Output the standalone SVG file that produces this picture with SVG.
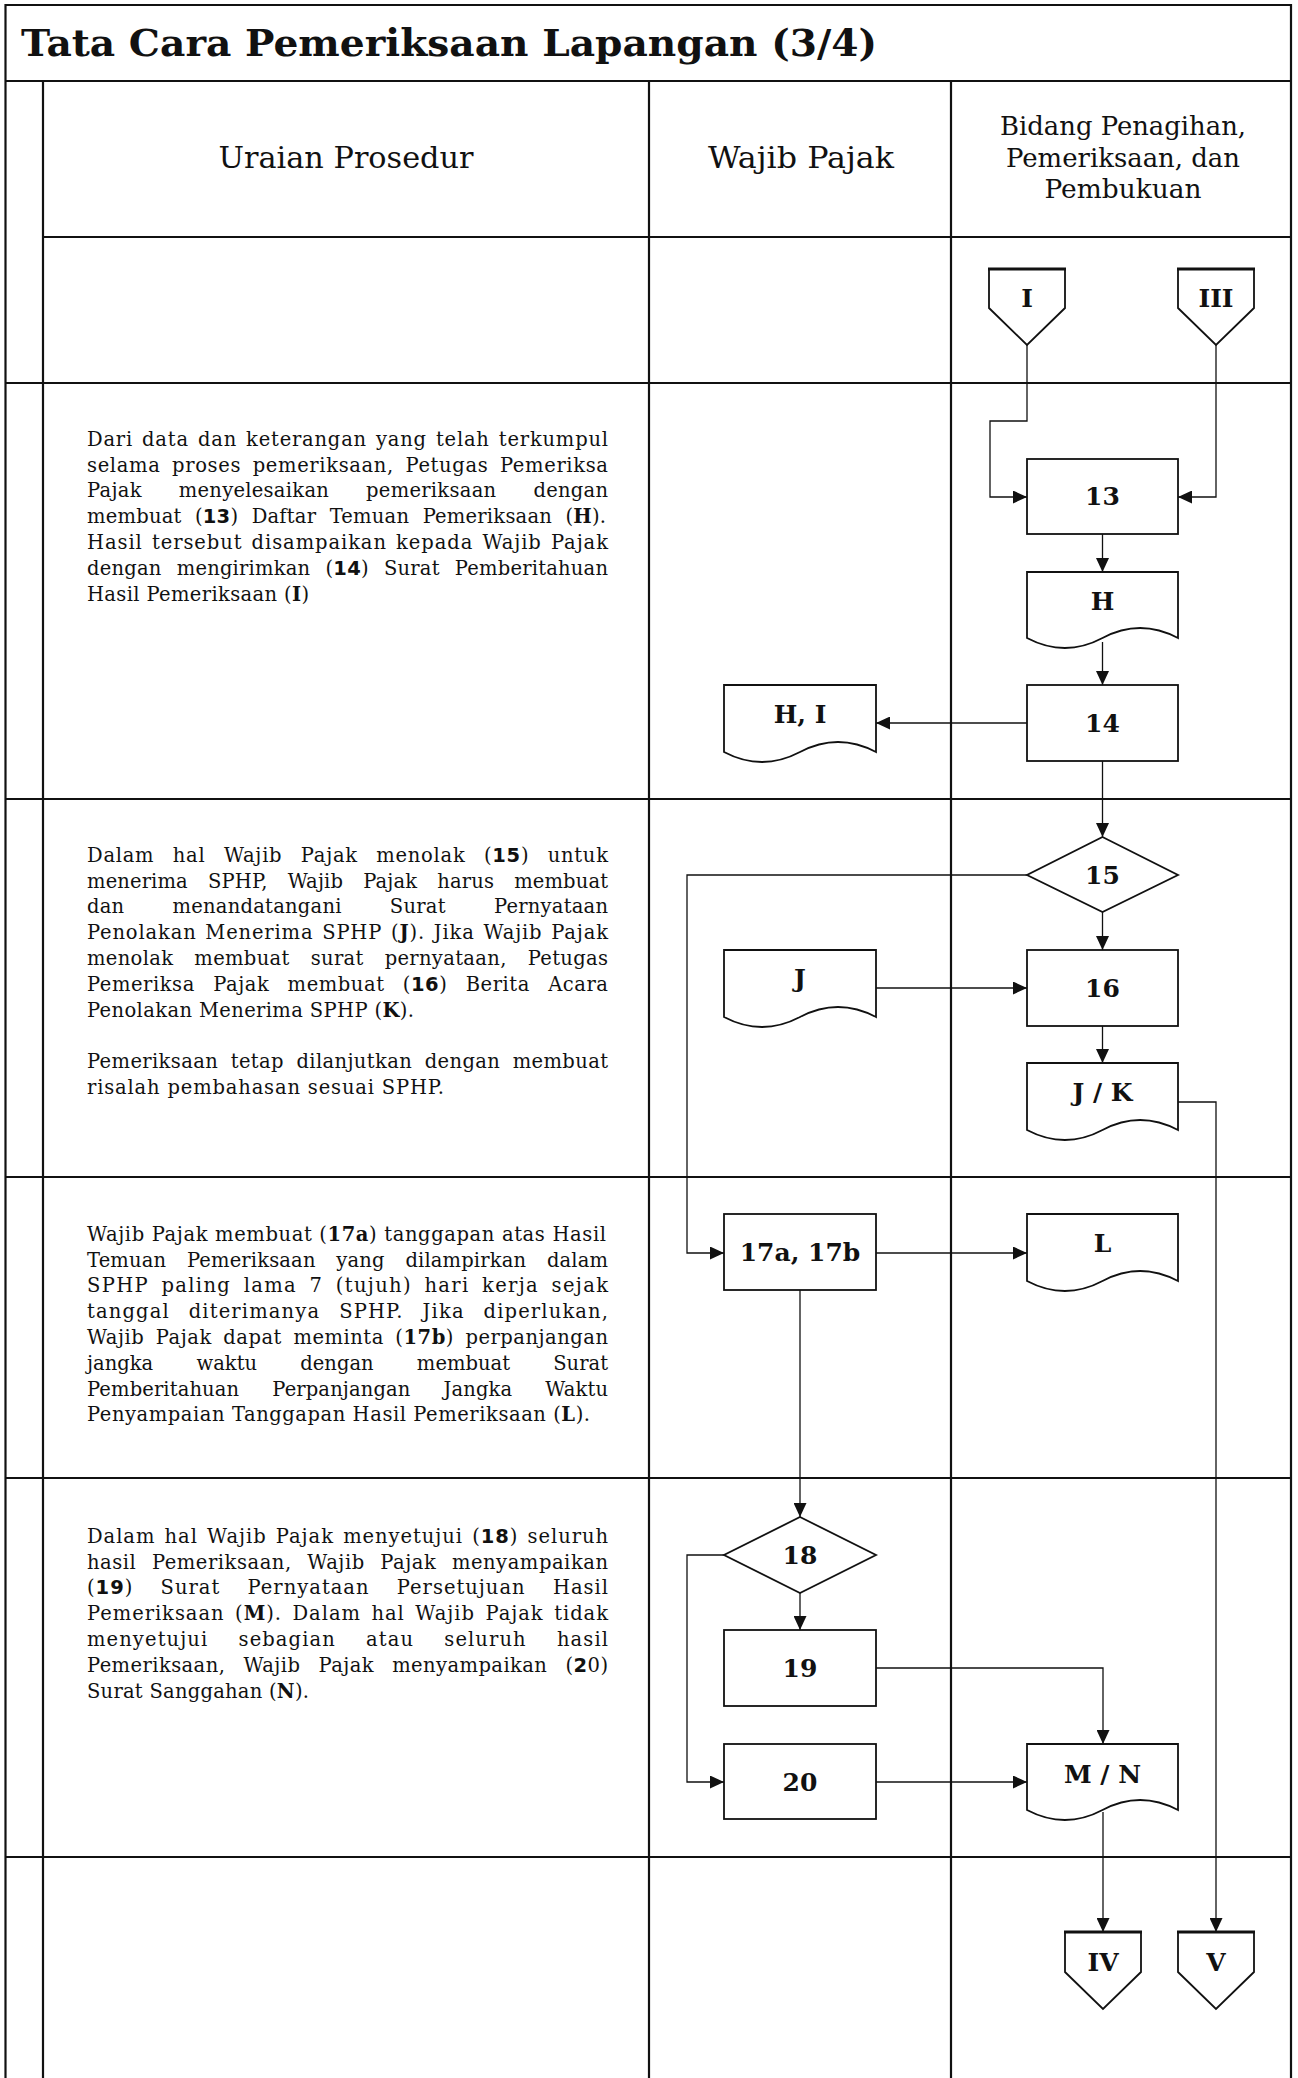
<svg xmlns="http://www.w3.org/2000/svg" width="1298" height="2078" viewBox="0 0 1298 2078">
<style>
.grid{stroke:#111;stroke-width:2.2;fill:none}
.shape{fill:#fff;stroke:#111;stroke-width:1.8}
.conn{fill:none;stroke:#111;stroke-width:1.3}
.top{stroke:#111;stroke-width:3.2}
.lbl{font-family:"DejaVu Serif",serif;font-weight:bold;font-size:25px;fill:#111;text-anchor:middle}
.hd{font-family:"DejaVu Serif",serif;fill:#111;text-anchor:middle}
.p{font-family:"DejaVu Serif",serif;font-size:19.5px;fill:#111}
.bn{font-family:"DejaVu Sans",sans-serif;font-weight:bold}
.bl{font-weight:bold}
</style>
<defs>
<marker id="ah" markerWidth="14" markerHeight="13" refX="14" refY="6.5" orient="auto" markerUnits="userSpaceOnUse">
<path d="M0,0 L14,6.5 L0,13 z" fill="#111"/>
</marker>
</defs>
<rect width="1298" height="2078" fill="#fff"/>

<g id="grid">
<line class="grid" x1="5.5" y1="5" x2="1291" y2="5"/>
<line class="grid" x1="5.5" y1="4" x2="5.5" y2="2078"/>
<line class="grid" x1="1291" y1="4" x2="1291" y2="2078"/>
<line class="grid" x1="5.5" y1="81" x2="1291" y2="81"/>
<line class="grid" x1="43" y1="81" x2="43" y2="2078"/>
<line class="grid" x1="649" y1="81" x2="649" y2="2078"/>
<line class="grid" x1="951" y1="81" x2="951" y2="2078"/>
<line class="grid" x1="43" y1="237" x2="1291" y2="237"/>
<line class="grid" x1="5.5" y1="383" x2="1291" y2="383"/>
<line class="grid" x1="5.5" y1="799" x2="1291" y2="799"/>
<line class="grid" x1="5.5" y1="1177" x2="1291" y2="1177"/>
<line class="grid" x1="5.5" y1="1478" x2="1291" y2="1478"/>
<line class="grid" x1="5.5" y1="1857" x2="1291" y2="1857"/>
</g>

<g id="title">
<text x="21" y="56" font-family="DejaVu Serif, serif" font-weight="bold" font-size="38" fill="#111" textLength="856" lengthAdjust="spacingAndGlyphs">Tata Cara Pemeriksaan Lapangan (3/4)</text>
</g>

<g id="headers">
<text class="hd" x="346" y="168" font-size="30" textLength="255" lengthAdjust="spacingAndGlyphs">Uraian Prosedur</text>
<text class="hd" x="801" y="168" font-size="30" textLength="186" lengthAdjust="spacingAndGlyphs">Wajib Pajak</text>
<text class="hd" x="1123" y="135" font-size="25.5" textLength="246" lengthAdjust="spacingAndGlyphs">Bidang Penagihan,</text>
<text class="hd" x="1123" y="167" font-size="25.5" textLength="234" lengthAdjust="spacingAndGlyphs">Pemeriksaan, dan</text>
<text class="hd" x="1123" y="198" font-size="25.5" textLength="157" lengthAdjust="spacingAndGlyphs">Pembukuan</text>
</g>

<g id="desc1">
<text class="p" x="87" y="445.7" word-spacing="2.1" textLength="521" lengthAdjust="spacing">Dari data dan keterangan yang telah terkumpul</text>
<text class="p" x="87" y="471.5" word-spacing="4.8" textLength="521" lengthAdjust="spacing">selama proses pemeriksaan, Petugas Pemeriksa</text>
<text class="p" x="87" y="497.3" word-spacing="30.5" textLength="521" lengthAdjust="spacing">Pajak menyelesaikan pemeriksaan dengan</text>
<text class="p" x="87" y="523.1" word-spacing="7" textLength="519" lengthAdjust="spacing">membuat (<tspan class="bn">13</tspan>) Daftar Temuan Pemeriksaan (<tspan class="bl">H</tspan>).</text>
<text class="p" x="87" y="548.9" word-spacing="2.1" textLength="521" lengthAdjust="spacing">Hasil tersebut disampaikan kepada Wajib Pajak</text>
<text class="p" x="87" y="574.7" word-spacing="8.8" textLength="521" lengthAdjust="spacing">dengan mengirimkan (<tspan class="bn">14</tspan>) Surat Pemberitahuan</text>
<text class="p" x="87" y="600.5" textLength="222" lengthAdjust="spacing">Hasil Pemeriksaan (<tspan class="bl">I</tspan>)</text>
</g>

<g id="desc2">
<text class="p" x="87" y="861.7" word-spacing="11.5" textLength="521" lengthAdjust="spacing">Dalam hal Wajib Pajak menolak (<tspan class="bn">15</tspan>) untuk</text>
<text class="p" x="87" y="887.5" word-spacing="13.8" textLength="521" lengthAdjust="spacing">menerima SPHP, Wajib Pajak harus membuat</text>
<text class="p" x="87" y="913.3" word-spacing="41.8" textLength="521" lengthAdjust="spacing">dan menandatangani Surat Pernyataan</text>
<text class="p" x="87" y="939.1" word-spacing="1.8" textLength="521" lengthAdjust="spacing">Penolakan Menerima SPHP (<tspan class="bl">J</tspan>). Jika Wajib Pajak</text>
<text class="p" x="87" y="964.9" word-spacing="14.4" textLength="521" lengthAdjust="spacing">menolak membuat surat pernyataan, Petugas</text>
<text class="p" x="87" y="990.7" word-spacing="11.5" textLength="521" lengthAdjust="spacing">Pemeriksa Pajak membuat (<tspan class="bn">16</tspan>) Berita Acara</text>
<text class="p" x="87" y="1016.5" textLength="327" lengthAdjust="spacing">Penolakan Menerima SPHP (<tspan class="bl">K</tspan>).</text>
<text class="p" x="87" y="1068.1" word-spacing="6" textLength="521" lengthAdjust="spacing">Pemeriksaan tetap dilanjutkan dengan membuat</text>
<text class="p" x="87" y="1093.9" textLength="357" lengthAdjust="spacing">risalah pembahasan sesuai SPHP.</text>
</g>

<g id="desc3">
<text class="p" x="87" y="1240.7" word-spacing="0.2" textLength="519" lengthAdjust="spacing">Wajib Pajak membuat (<tspan class="bl">17a</tspan>) tanggapan atas Hasil</text>
<text class="p" x="87" y="1266.5" word-spacing="14.4" textLength="521" lengthAdjust="spacing">Temuan Pemeriksaan yang dilampirkan dalam</text>
<text class="p" x="87" y="1292.3" word-spacing="5" textLength="521" lengthAdjust="spacing">SPHP paling lama 7 (tujuh) hari kerja sejak</text>
<text class="p" x="87" y="1318.1" word-spacing="11.6" textLength="521" lengthAdjust="spacing">tanggal diterimanya SPHP. Jika diperlukan,</text>
<text class="p" x="87" y="1343.9" word-spacing="4.8" textLength="521" lengthAdjust="spacing">Wajib Pajak dapat meminta (<tspan class="bl">17b</tspan>) perpanjangan</text>
<text class="p" x="87" y="1369.7" word-spacing="37" textLength="521" lengthAdjust="spacing">jangka waktu dengan membuat Surat</text>
<text class="p" x="87" y="1395.5" word-spacing="26.8" textLength="521" lengthAdjust="spacing">Pemberitahuan Perpanjangan Jangka Waktu</text>
<text class="p" x="87" y="1421.3" textLength="503" lengthAdjust="spacing">Penyampaian Tanggapan Hasil Pemeriksaan (<tspan class="bl">L</tspan>).</text>
</g>

<g id="desc4">
<text class="p" x="87" y="1542.7" word-spacing="2.1" textLength="521" lengthAdjust="spacing">Dalam hal Wajib Pajak menyetujui (<tspan class="bn">18</tspan>) seluruh</text>
<text class="p" x="87" y="1568.5" word-spacing="8.8" textLength="521" lengthAdjust="spacing">hasil Pemeriksaan, Wajib Pajak menyampaikan</text>
<text class="p" x="87" y="1594.3" word-spacing="20.1" textLength="521" lengthAdjust="spacing">(<tspan class="bn">19</tspan>) Surat Pernyataan Persetujuan Hasil</text>
<text class="p" x="87" y="1620.1" word-spacing="3.4" textLength="521" lengthAdjust="spacing">Pemeriksaan (<tspan class="bl">M</tspan>). Dalam hal Wajib Pajak tidak</text>
<text class="p" x="87" y="1645.9" word-spacing="22.9" textLength="521" lengthAdjust="spacing">menyetujui sebagian atau seluruh hasil</text>
<text class="p" x="87" y="1671.7" word-spacing="11.6" textLength="521" lengthAdjust="spacing">Pemeriksaan, Wajib Pajak menyampaikan (<tspan class="bn">2</tspan>0)</text>
<text class="p" x="87" y="1697.5" textLength="222" lengthAdjust="spacing">Surat Sanggahan (<tspan class="bl">N</tspan>).</text>
</g>

<g id="connectors">
<polyline class="conn" points="1027,345 1027,421 990,421 990,497 1027,497" marker-end="url(#ah)"/>
<polyline class="conn" points="1216,345 1216,497 1178,497" marker-end="url(#ah)"/>
<line class="conn" x1="1102.5" y1="534" x2="1102.5" y2="572" marker-end="url(#ah)"/>
<line class="conn" x1="1102.5" y1="642" x2="1102.5" y2="685" marker-end="url(#ah)"/>
<line class="conn" x1="1027" y1="723" x2="876" y2="723" marker-end="url(#ah)"/>
<line class="conn" x1="1102.5" y1="761" x2="1102.5" y2="837" marker-end="url(#ah)"/>
<line class="conn" x1="1102.5" y1="912" x2="1102.5" y2="950" marker-end="url(#ah)"/>
<polyline class="conn" points="1027,875 687,875 687,1253 724,1253" marker-end="url(#ah)"/>
<line class="conn" x1="876" y1="988" x2="1027" y2="988" marker-end="url(#ah)"/>
<line class="conn" x1="1102.5" y1="1026" x2="1102.5" y2="1063" marker-end="url(#ah)"/>
<polyline class="conn" points="1178,1102 1216,1102 1216,1932" marker-end="url(#ah)"/>
<line class="conn" x1="876" y1="1253" x2="1027" y2="1253" marker-end="url(#ah)"/>
<line class="conn" x1="800" y1="1290" x2="800" y2="1517" marker-end="url(#ah)"/>
<line class="conn" x1="800" y1="1593" x2="800" y2="1630" marker-end="url(#ah)"/>
<polyline class="conn" points="724,1555 687,1555 687,1782 724,1782" marker-end="url(#ah)"/>
<polyline class="conn" points="876,1668 1103,1668 1103,1744" marker-end="url(#ah)"/>
<line class="conn" x1="876" y1="1782" x2="1027" y2="1782" marker-end="url(#ah)"/>
<line class="conn" x1="1103" y1="1812" x2="1103" y2="1932" marker-end="url(#ah)"/>
</g>

<g id="offpage-I">
<polygon class="shape" points="989,269 1065,269 1065,308 1027,345 989,308"/>
<line class="top" x1="988" y1="269" x2="1066" y2="269"/>
<text class="lbl" x="1027" y="307">I</text>
</g>
<g id="offpage-III">
<polygon class="shape" points="1178,269 1254,269 1254,308 1216,345 1178,308"/>
<line class="top" x1="1177" y1="269" x2="1255" y2="269"/>
<text class="lbl" x="1216" y="307">III</text>
</g>

<g id="n13">
<rect class="shape" x="1027" y="459" width="151" height="75"/>
<text class="lbl" x="1102.5" y="505">13</text>
</g>
<g id="docH">
<path class="shape" d="M1027,572 H1178 V638 Q1140,618 1102.5,638 T1027,638 Z"/>
<text class="lbl" x="1102.5" y="610">H</text>
</g>
<g id="n14">
<rect class="shape" x="1027" y="685" width="151" height="76"/>
<text class="lbl" x="1102.5" y="732">14</text>
</g>
<g id="docHI">
<path class="shape" d="M724,685 H876 V752 Q838,732 800,752 T724,752 Z"/>
<text class="lbl" x="800" y="723">H, I</text>
</g>

<g id="d15">
<polygon class="shape" points="1102.5,837 1178,875 1102.5,912 1027,875"/>
<text class="lbl" x="1102.5" y="884">15</text>
</g>
<g id="docJ">
<path class="shape" d="M724,950 H876 V1017 Q838,997 800,1017 T724,1017 Z"/>
<text class="lbl" x="800" y="987">J</text>
</g>
<g id="n16">
<rect class="shape" x="1027" y="950" width="151" height="76"/>
<text class="lbl" x="1102.5" y="997">16</text>
</g>
<g id="docJK">
<path class="shape" d="M1027,1063 H1178 V1130 Q1140,1110 1102.5,1130 T1027,1130 Z"/>
<text class="lbl" x="1102.5" y="1101">J / K</text>
</g>

<g id="n17">
<rect class="shape" x="724" y="1214" width="152" height="76"/>
<text class="lbl" x="800" y="1261">17a, 17b</text>
</g>
<g id="docL">
<path class="shape" d="M1027,1214 H1178 V1281 Q1140,1261 1102.5,1281 T1027,1281 Z"/>
<text class="lbl" x="1102.5" y="1252">L</text>
</g>

<g id="d18">
<polygon class="shape" points="800,1517 876,1555 800,1593 724,1555"/>
<text class="lbl" x="800" y="1564">18</text>
</g>
<g id="n19">
<rect class="shape" x="724" y="1630" width="152" height="76"/>
<text class="lbl" x="800" y="1677">19</text>
</g>
<g id="n20">
<rect class="shape" x="724" y="1744" width="152" height="75"/>
<text class="lbl" x="800" y="1791">20</text>
</g>
<g id="docMN">
<path class="shape" d="M1027,1744 H1178 V1810 Q1140,1790 1102.5,1810 T1027,1810 Z"/>
<text class="lbl" x="1102.5" y="1783">M / N</text>
</g>

<g id="offpage-IV">
<polygon class="shape" points="1065,1932 1141,1932 1141,1972 1103,2009 1065,1972"/>
<line class="top" x1="1064" y1="1932" x2="1142" y2="1932"/>
<text class="lbl" x="1103" y="1971">IV</text>
</g>
<g id="offpage-V">
<polygon class="shape" points="1178,1932 1254,1932 1254,1972 1216,2009 1178,1972"/>
<line class="top" x1="1177" y1="1932" x2="1255" y2="1932"/>
<text class="lbl" x="1216" y="1971">V</text>
</g>
</svg>
